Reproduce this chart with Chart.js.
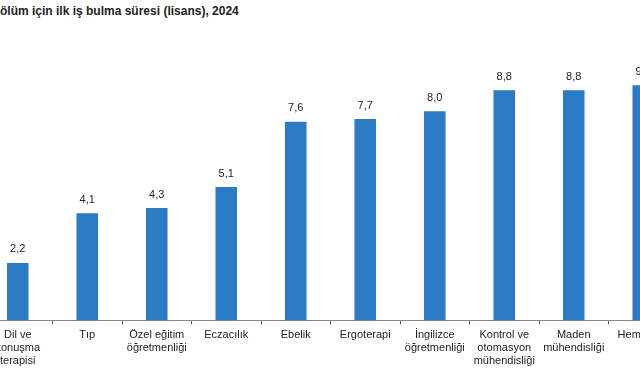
<!DOCTYPE html>
<html lang="tr">
<head>
<meta charset="utf-8">
<script src="https://cdn.jsdelivr.net/npm/chart.js@4"></script>
<style>
  html, body { margin: 0; padding: 0; background: #fff; overflow: hidden; }
  body { width: 640px; height: 375px; position: relative; }
  #title {
    position: absolute; left: 0; top: 4px;
    font: bold 12px "Liberation Sans", Arial, sans-serif; color: #222;
    white-space: nowrap;
  }
  #wrap { position: absolute; left: -17px; top: 0; width: 695px; height: 372px; }
</style>
</head>
<body>
<div id="title">ölüm için ilk iş bulma süresi (lisans), 2024</div>
<div id="wrap"><canvas id="chart"></canvas></div>
<script>
// Bölümler ve ilk iş bulma süresi (ay)
const categories = [
  ['Dil ve', 'konuşma', 'terapisi'],
  ['Tıp'],
  ['Özel eğitim', 'öğretmenliği'],
  ['Eczacılık'],
  ['Ebelik'],
  ['Ergoterapi'],
  ['İngilizce', 'öğretmenliği'],
  ['Kontrol ve', 'otomasyon', 'mühendisliği'],
  ['Maden', 'mühendisliği'],
  ['Hemşirelik']
];
const months = [2.2, 4.1, 4.3, 5.1, 7.6, 7.7, 8.0, 8.8, 8.8, 9.0];

const fontFamily = '"Liberation Sans", Arial, sans-serif';

// draw value labels above bars
const valueLabels = {
  id: 'valueLabels',
  afterDatasetsDraw(chart) {
    const ctx = chart.ctx;
    const meta = chart.getDatasetMeta(0);
    ctx.save();
    ctx.font = '11px ' + fontFamily;
    ctx.fillStyle = '#222';
    ctx.textAlign = 'center';
    ctx.textBaseline = 'bottom';
    meta.data.forEach((bar, i) => {
      const txt = months[i].toFixed(1).replace('.', ',');
      ctx.fillText(txt, bar.x, bar.y - 8);
    });
    ctx.restore();
  }
};

new Chart(document.getElementById('chart'), {
  type: 'bar',
  data: {
    labels: categories,
    datasets: [{
      data: months,
      backgroundColor: '#2b7bc5',
      barPercentage: 0.31,
      categoryPercentage: 1.0
    }]
  },
  options: {
    responsive: true,
    maintainAspectRatio: false,
    animation: false,
    layout: { padding: { top: 59, left: 0, right: 0, bottom: 0 } },
    plugins: {
      legend: { display: false },
      tooltip: { enabled: false }
    },
    scales: {
      x: {
        offset: true,
        grid: {
          offset: true,
          drawOnChartArea: false,
          drawTicks: true,
          tickLength: 4,
          color: '#555'
        },
        border: { display: true, color: '#888' },
        ticks: {
          color: '#222',
          font: { family: fontFamily, size: 11 },
          maxRotation: 0,
          autoSkip: false,
          padding: 4
        }
      },
      y: {
        display: false,
        min: 0,
        max: 10
      }
    }
  },
  plugins: [valueLabels]
});
</script>
</body>
</html>
